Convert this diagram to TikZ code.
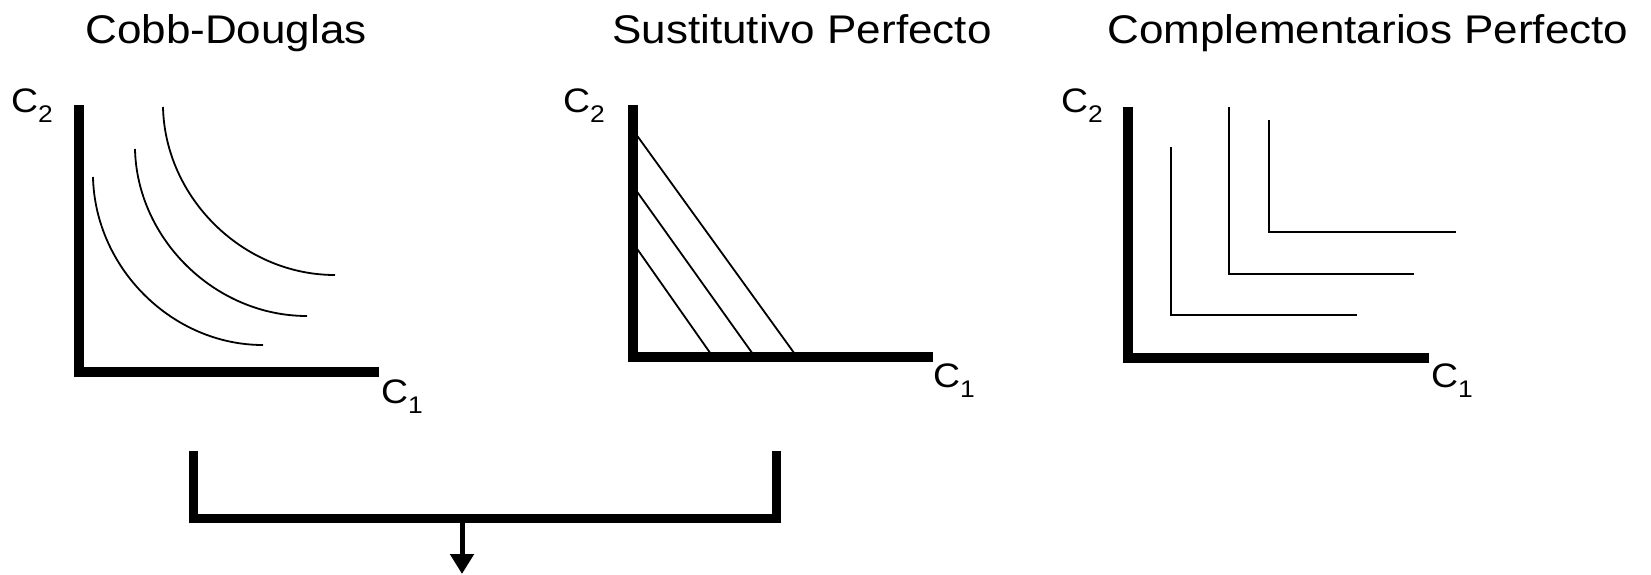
\documentclass[tikz,border=0pt]{standalone}
\usepackage{fontspec}
\setmainfont{Liberation Sans}[FakeStretch=1.1]
\usetikzlibrary{arrows.meta}
\newcommand{\lowidx}[1]{\raisebox{-10pt}{\fontsize{24}{24}\selectfont #1}}
\tikzset{
  title/.style={anchor=base, inner sep=0pt, font=\fontsize{40}{46}\selectfont},
  lbl/.style={anchor=base west, inner sep=0pt, font=\fontsize{34}{38}\selectfont},
  axis/.style={line width=10pt},
  curve/.style={line width=1.8pt},
  kink/.style={line width=2pt},
  brace/.style={line width=9pt},
  down/.style={line width=5pt, -{Triangle[width=23pt,length=20pt]}}
}
\begin{document}
\begin{tikzpicture}[x=1pt,y=-1pt]
  \useasboundingbox (0,0) rectangle (1651,574);

  \node [title] (cobb) at (226,43) {Cobb-Douglas};
  \node [title] (sust) at (802,43) {Sustitutivo Perfecto};
  \node [title] (comp) at (1368,43) {Complementarios Perfecto};

  \draw [axis] (79,105) -- (79,372) -- (379,372);
  \node [lbl] (ctwoa) at (11,112) {C\lowidx{2}};
  \node [lbl] (conea) at (381,403) {C\lowidx{1}};
  \draw [curve] (93,177) .. controls (95,268) and (172,345) .. (263,345);
  \draw [curve] (135,149) .. controls (137,239) and (215,316) .. (307,316);
  \draw [curve] (163,107) .. controls (165,198) and (243,275) .. (335,275);

  \draw [axis] (633,105) -- (633,357) -- (933,357);
  \node [lbl] (ctwob) at (563,112) {C\lowidx{2}};
  \node [lbl] (coneb) at (933,387) {C\lowidx{1}};
  \draw [curve] (633,243) -- (713,357);
  \draw [curve] (633,186) -- (755,357);
  \draw [curve] (633,130) -- (797,357);

  \draw [axis] (1128,107) -- (1128,358) -- (1429,358);
  \node [lbl] (ctwoc) at (1061,112) {C\lowidx{2}};
  \node [lbl] (conec) at (1431,387) {C\lowidx{1}};
  \draw [kink] (1171,147) -- (1171,315) -- (1357,315);
  \draw [kink] (1229,107) -- (1229,274) -- (1414,274);
  \draw [kink] (1269,120) -- (1269,232) -- (1456,232);

  \coordinate (join) at (462,518);
  \coordinate (out) at (462,574);
  \draw [brace] (193,451) -- (193,518) -- (776,518) -- (776,451);
  \draw [down] (join) -- (out);
\end{tikzpicture}
\end{document}
